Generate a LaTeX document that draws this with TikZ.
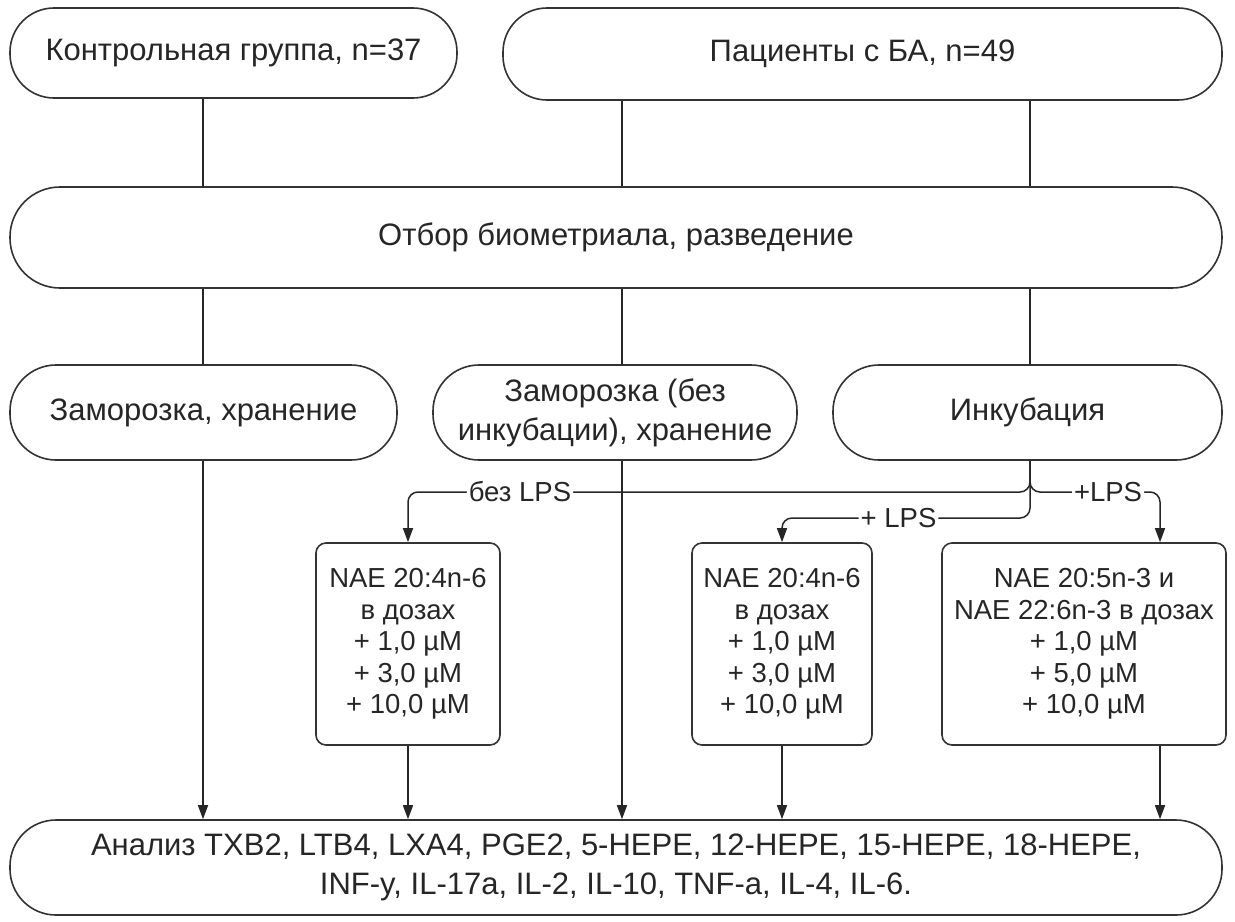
\documentclass[tikz,border=0pt]{standalone}
\usepackage{fontspec}
\setmainfont{Liberation Sans}
\usetikzlibrary{arrows.meta}
\begin{document}
\begin{tikzpicture}[x=0.5pt,y=-0.5pt,
  every node/.style={text=black!85},
  stadium/.style={draw=black!80, line width=0.8pt, rectangle, align=center, inner sep=0pt,
    font=\fontsize{15.5}{19.5}\selectfont},
  dosebox/.style={draw=black!80, line width=0.8pt, rectangle, rounded corners=5pt, align=center, inner sep=0pt,
    minimum height=101pt, font=\fontsize{13.75}{15.75}\selectfont},
  conn/.style={draw=black!85, line width=0.75pt},
  arr/.style={conn, -{Triangle[width=5pt,length=7pt]}},
  lbl/.style={fill=white, inner sep=1pt, font=\fontsize{13.75}{15}\selectfont}
]
\useasboundingbox (0,0) rectangle (1235,921);
\coordinate (colA) at (203,0);
\coordinate (colB) at (622,0);
\coordinate (colC) at (1030,0);
\coordinate (colF) at (1160,0);
\coordinate (rowA) at (0,492);
\coordinate (rowB) at (0,518);

\node[stadium, minimum width=223.5pt, minimum height=45pt, rounded corners=22pt] (ctrl) at (233.5,53) {Контрольная группа, n=37};
\node[stadium, minimum width=359.5pt, minimum height=46pt, rounded corners=22pt] (pat) at (862.5,54) {Пациенты с БА, n=49};
\node[stadium, minimum width=606pt, minimum height=50.5pt, rounded corners=25pt] (sel) at (616,237.5) {Отбор биометриала, разведение};
\node[stadium, minimum width=193.5pt, minimum height=47.5pt, rounded corners=23pt] (fr1) at (203.5,412.5) {Заморозка, хранение};
\node[stadium, minimum width=182pt, minimum height=47.5pt, rounded corners=23pt] (fr2) at (615,412.5) {Заморозка (без\\инкубации), хранение};
\node[stadium, minimum width=194.5pt, minimum height=47.5pt, rounded corners=23pt] (inc) at (1027.5,412.5) {Инкубация};

\node[dosebox, minimum width=92pt] (b1) at (408,644) {NAE 20:4n-6\\в дозах\\+ 1,0 µM\\+ 3,0 µM\\+ 10,0 µM};
\node[dosebox, minimum width=90pt] (b2) at (782,644) {NAE 20:4n-6\\в дозах\\+ 1,0 µM\\+ 3,0 µM\\+ 10,0 µM};
\node[dosebox, minimum width=142pt] (b3) at (1084,644) {NAE 20:5n-3 и\\NAE 22:6n-3 в дозах\\+ 1,0 µM\\+ 5,0 µM\\+ 10,0 µM};

\node[stadium, minimum width=606pt, minimum height=47.5pt, rounded corners=23pt] (an) at (616,867.5) {Анализ TXB2, LTB4, LXA4, PGE2, 5-HEPE, 12-HEPE, 15-HEPE, 18-HEPE,\\INF-y, IL-17a, IL-2, IL-10, TNF-a, IL-4, IL-6.};

\draw[conn] (ctrl.south -| colA) -- (sel.north -| colA);
\draw[conn] (pat.south -| colB) -- (sel.north -| colB);
\draw[conn] (pat.south -| colC) -- (sel.north -| colC);
\draw[conn] (sel.south -| colA) -- (fr1.north -| colA);
\draw[conn] (sel.south -| colB) -- (fr2.north -| colB);
\draw[conn] (sel.south -| colC) -- (inc.north -| colC);

\draw[arr] (fr1.south -| colA) -- (an.north -| colA);
\draw[arr] (fr2.south -| colB) -- (an.north -| colB);
\draw[arr] (b1.south) -- (b1.south |- an.north);
\draw[arr] (b2.south) -- (b2.south |- an.north);
\draw[arr] (b3.south -| colF) -- (an.north -| colF);

\draw[arr, rounded corners=5pt] (inc.south -| colC) |- node[lbl, pos=0.91] {без LPS} (rowA -| b1.north) -- (b1.north);
\draw[arr, rounded corners=5pt] (inc.south -| colC) |- node[lbl, pos=0.765] {+ LPS} (rowB -| b2.north) [sharp corners] -- (b2.north);
\draw[arr, rounded corners=5pt] (inc.south -| colC) |- node[lbl, pos=0.80] {+LPS} (rowA -| colF) -- (b3.north -| colF);
\end{tikzpicture}
\end{document}
